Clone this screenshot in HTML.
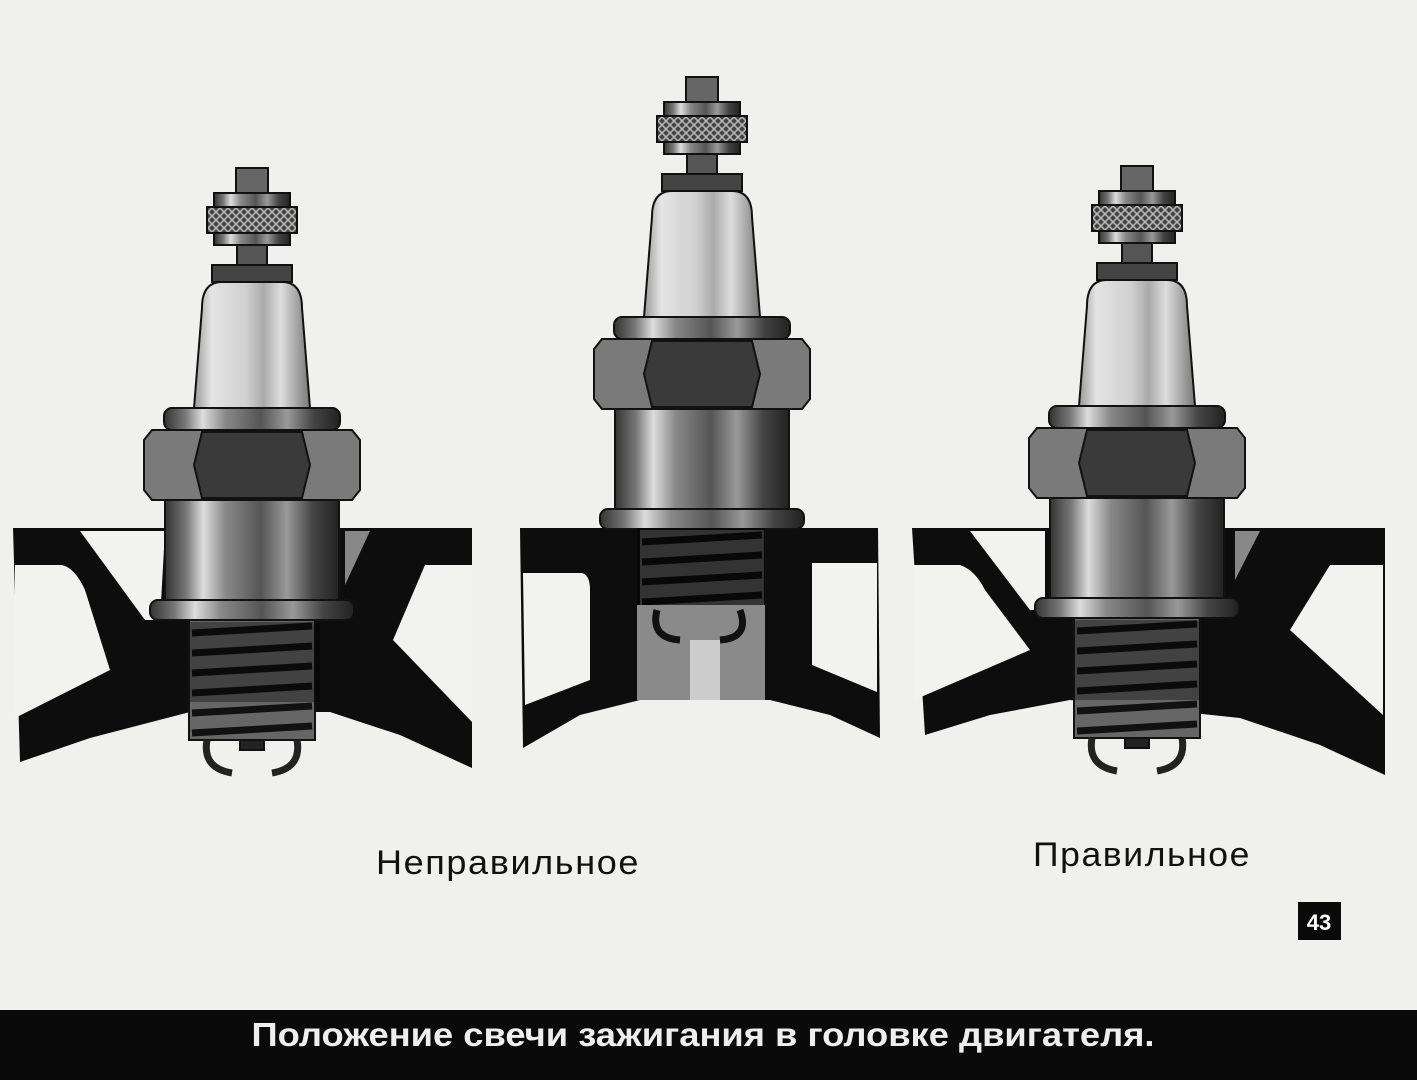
<!DOCTYPE html>
<html><head><meta charset="utf-8"><style>
html,body{margin:0;padding:0;background:#f0f0ee;}
svg{display:block}
</style></head><body>
<svg width="1417" height="1080" viewBox="0 0 1417 1080" xmlns="http://www.w3.org/2000/svg">
<defs>
<linearGradient id="met" x1="0" x2="1" y1="0" y2="0">
<stop offset="0" stop-color="#333"/><stop offset="0.12" stop-color="#777"/><stop offset="0.22" stop-color="#ddd"/><stop offset="0.35" stop-color="#888"/><stop offset="0.55" stop-color="#555"/><stop offset="0.7" stop-color="#999"/><stop offset="0.85" stop-color="#444"/><stop offset="1" stop-color="#222"/>
</linearGradient>
<linearGradient id="por" x1="0" x2="1" y1="0" y2="0">
<stop offset="0" stop-color="#999"/><stop offset="0.15" stop-color="#e4e4e4"/><stop offset="0.45" stop-color="#d0d0d0"/><stop offset="0.6" stop-color="#aaa"/><stop offset="0.75" stop-color="#ddd"/><stop offset="1" stop-color="#777"/>
</linearGradient>
<pattern id="knurl" width="8" height="8" patternUnits="userSpaceOnUse">
<rect width="8" height="8" fill="#444"/><path d="M0 0L8 8M8 0L0 8" stroke="#bbb" stroke-width="1.5"/>
</pattern>
<g id="plug" stroke="#111" stroke-width="2">
<rect x="-16" y="0" width="32" height="32" fill="#666"/>
<rect x="-38" y="25" width="76" height="14" fill="url(#met)"/>
<rect x="-45" y="39" width="90" height="26" fill="url(#knurl)"/>
<rect x="-38" y="65" width="76" height="12" fill="url(#met)"/>
<rect x="-15" y="77" width="30" height="22" fill="#555"/>
<rect x="-40" y="97" width="80" height="17" fill="#444"/>
<path d="M-50 140 Q-50 114 -30 114 L30 114 Q50 114 50 140 L58 240 L-58 240 Z" fill="url(#por)"/>
<rect x="-88" y="240" width="176" height="22" rx="8" fill="url(#met)"/>
<path d="M-100 262 L100 262 L108 272 L108 322 L100 332 L-100 332 L-108 322 L-108 272 Z" fill="#7a7a7a"/>
<path d="M-50 264 L50 264 L58 297 L50 330 L-50 330 L-58 297 Z" fill="#3a3a3a"/>
<rect x="-87" y="332" width="174" height="100" fill="url(#met)"/>
<rect x="-102" y="432" width="204" height="20" rx="8" fill="url(#met)"/>
<rect x="-63" y="452" width="126" height="120" fill="#666"/>
<g stroke="#111" stroke-width="7" fill="none">
<path d="M-60 465 L60 458 M-60 485 L60 478 M-60 505 L60 498 M-60 525 L60 518 M-60 545 L60 538 M-60 565 L60 558"/>
</g>
<path d="M-45 572 Q-50 600 -20 605 M45 572 Q50 600 20 605" stroke="#222" stroke-width="7" fill="none"/>
<rect x="-12" y="572" width="24" height="10" fill="#222"/>
</g>
</defs>

<!-- left head -->
<path d="M13 528 L472 528 L472 768 L400 735 L330 712 L190 712 L90 738 L20 762 Z" fill="#0d0d0d"/>
<path d="M15 565 L62 565 Q75 568 85 590 L110 670 L15 718 Z" fill="#f2f2f0"/>
<path d="M472 565 L425 565 L393 640 L472 722 Z" fill="#f2f2f0"/>
<path d="M80 531 L165 531 L160 620 L145 620 Z" fill="#f2f2f0"/>
<path d="M345 531 L370 531 L345 585 Z" fill="#888"/>
<use href="#plug" transform="translate(252,168)"/>
<rect x="190" y="622" width="130" height="80" fill="#000" opacity="0.35"/>

<!-- center head -->
<path d="M520 528 L878 528 L880 738 L830 715 L770 700 L640 700 L580 715 L523 748 Z" fill="#0d0d0d"/>
<path d="M523 573 L582 573 Q590 575 590 590 L590 680 L525 705 Z" fill="#f2f2f0"/>
<path d="M812 563 L877 563 L877 692 L812 665 Z" fill="#f2f2f0"/>
<use href="#plug" transform="translate(702,77)"/>
<rect x="637" y="605" width="128" height="95" fill="#8a8a8a"/>
<rect x="690" y="640" width="30" height="60" fill="#ccc"/>
<rect x="637" y="528" width="128" height="77" fill="#000" opacity="0.5"/>
<path d="M657 610 Q650 638 680 640 M740 610 Q750 638 720 640" stroke="#111" stroke-width="7" fill="none"/>

<!-- right head -->
<path d="M912 528 L1385 528 L1385 775 L1320 745 L1240 718 L1070 700 L990 715 L925 735 Z" fill="#0d0d0d"/>
<path d="M914 565 L960 565 Q975 570 985 590 L1030 650 L914 700 Z" fill="#f2f2f0"/>
<path d="M1383 565 L1330 565 L1290 630 L1383 715 Z" fill="#f2f2f0"/>
<path d="M970 531 L1045 531 L1045 610 L1030 610 Z" fill="#f2f2f0"/>
<path d="M1235 531 L1260 531 L1235 580 Z" fill="#888"/>
<use href="#plug" transform="translate(1137,166)"/>
<rect x="1075" y="620" width="125" height="80" fill="#000" opacity="0.35"/>

<text x="508" y="874" font-family="Liberation Sans, sans-serif" font-size="34" text-anchor="middle" fill="#111" letter-spacing="1.5" textLength="264" lengthAdjust="spacingAndGlyphs">Неправильное</text>
<text x="1142" y="866" font-family="Liberation Sans, sans-serif" font-size="34" text-anchor="middle" fill="#111" letter-spacing="1.5" textLength="218" lengthAdjust="spacingAndGlyphs">Правильное</text>

<rect x="1298" y="902" width="43" height="38" fill="#0a0a0a"/>
<text x="1319" y="930" font-family="Liberation Sans, sans-serif" font-size="22" font-weight="bold" text-anchor="middle" fill="#fff">43</text>

<rect x="0" y="1010" width="1417" height="70" fill="#0a0a0a"/>
<text x="703" y="1046" font-family="Liberation Sans, sans-serif" font-size="33" font-weight="bold" text-anchor="middle" fill="#eee" textLength="903" lengthAdjust="spacingAndGlyphs">Положение свечи зажигания в головке двигателя.</text>
</svg>
</body></html>
